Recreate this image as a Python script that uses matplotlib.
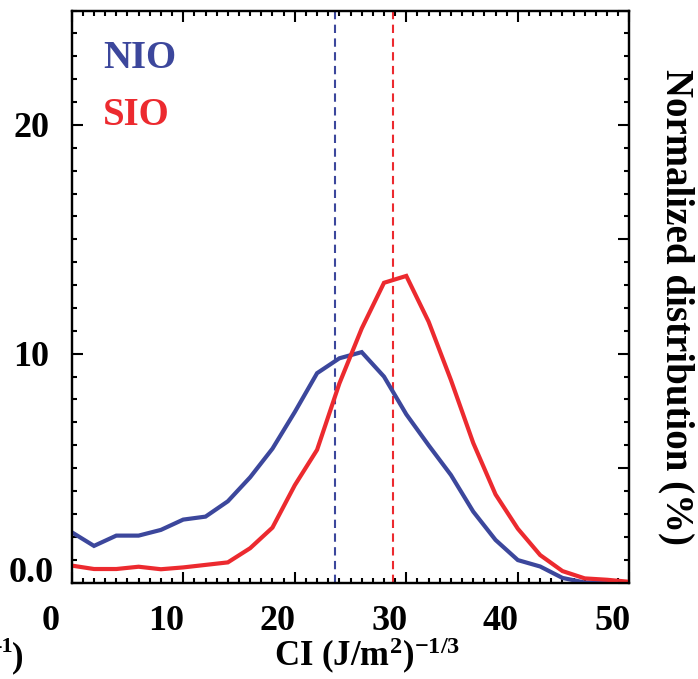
import matplotlib
matplotlib.use("Agg")
import matplotlib.pyplot as plt
from matplotlib.ticker import MultipleLocator
from matplotlib.transforms import ScaledTranslation

# CI bins (J/m^2)^-1/3
CI = [0, 2, 4, 6, 8, 10, 12, 14, 16, 18, 20, 22, 24,
      26, 28, 30, 32, 34, 36, 38, 40, 42, 44, 46, 48, 50]
NIO = [2.2, 1.6, 2.05, 2.05, 2.3, 2.75, 2.88, 3.55, 4.6, 5.85, 7.45, 9.15, 9.8,
       10.07, 9.0, 7.35, 6.0, 4.7, 3.1, 1.86, 0.98, 0.7, 0.2, 0.0, 0.0, 0.0]
SIO = [0.74, 0.59, 0.59, 0.69, 0.58, 0.66, 0.77, 0.88, 1.5, 2.4, 4.25, 5.8, 8.7,
       11.1, 13.1, 13.4, 11.4, 8.85, 6.1, 3.85, 2.35, 1.2, 0.5, 0.18, 0.12, 0.03]
NIO_MEAN = 23.64
SIO_MEAN = 28.84

XTICKS = [0, 10, 20, 30, 40, 50]
YTICKS = [0, 10, 20]
YTICKLABELS = ["0.0", "10", "20"]

BLUE = "#3c479c"
RED = "#ec2a2f"
FONT = "Liberation Serif"

plt.rcParams.update({
    "font.family": FONT,
    "font.weight": "bold",
    "mathtext.fontset": "custom",
    "mathtext.rm": "Liberation Serif:bold",
    "mathtext.it": "Liberation Serif:bold",
    "mathtext.bf": "Liberation Serif:bold",
})

fig = plt.figure(figsize=(6.98, 6.79), dpi=100)
ax = fig.add_axes([0.1027, 0.1421, 0.799, 0.8424])

ax.plot(CI, NIO, color=BLUE, lw=3, solid_joinstyle="miter", zorder=3)
ax.plot(CI, SIO, color=RED, lw=3, solid_joinstyle="miter", zorder=4)
ax.axvline(NIO_MEAN, color=BLUE, lw=1.5, ls=(0, (4, 2.6)), zorder=2)
ax.axvline(SIO_MEAN, color=RED, lw=1.5, ls=(0, (4, 2.6)), zorder=2)

ax.set_xlim(0, 50)
ax.set_ylim(0, 25)

for s in ax.spines.values():
    s.set_linewidth(1.6)

ax.set_xticks(XTICKS)
ax.set_xticklabels([str(v) for v in XTICKS])
ax.xaxis.set_minor_locator(MultipleLocator(1))
ax.set_yticks(YTICKS)
ax.set_yticklabels(YTICKLABELS)
ax.yaxis.set_minor_locator(MultipleLocator(1))
ax.tick_params(which="both", direction="in", top=True, right=False, width=1.5,
               labelsize=26)
ax.tick_params(which="major", length=8, pad=16)
ax.tick_params(which="minor", length=3.8)

# right axis: own tick spacing, no labels
ax2 = ax.twinx()
ax2.set_ylim(0, 25)
ax2.yaxis.set_major_locator(MultipleLocator(5))
ax2.yaxis.set_minor_locator(MultipleLocator(1))
ax2.tick_params(which="both", direction="in", width=1.5, labelright=False)
ax2.tick_params(which="major", length=8)
ax2.tick_params(which="minor", length=3.8)
for s in ax2.spines.values():
    s.set_linewidth(1.6)

# labels sit a little off their ticks in the original
for i, lab in enumerate(ax.get_xticklabels()):
    dx = -21 if i == 0 else -17
    lab.set_transform(lab.get_transform() + ScaledTranslation(dx / 100, 0, fig.dpi_scale_trans))
for i, lab in enumerate(ax.get_yticklabels()):
    dx, dy = (4, 13) if i == 0 else (0, 0)
    lab.set_transform(lab.get_transform() + ScaledTranslation(dx / 100, dy / 100, fig.dpi_scale_trans))

ax.text(2.8, 22.5, "NIO", color=BLUE, fontsize=28, fontweight="bold", va="baseline")
ax.text(2.8, 19.98, "SIO", color=RED, fontsize=28, fontweight="bold", va="baseline")

fig.text(367 / 698, 1 - 666 / 679, r"CI (J/m$^{2}$)$^{-1/3}$", fontsize=25,
         fontweight="bold", ha="center", va="baseline")
fig.text(676 / 698, 1 - 307 / 679, "Normalized distribution (%)", fontsize=28,
         fontweight="bold", rotation=270, ha="center", va="center")
# clipped label from the neighbouring panel
fig.text(23 / 698, 1 - 666 / 679, ")", fontsize=25, fontweight="bold",
         ha="right", va="baseline")
fig.text(13 / 698, 1 - 652 / 679, "-1", fontsize=16, fontweight="bold",
         ha="right", va="baseline")

fig.savefig("out.png", dpi=100)
